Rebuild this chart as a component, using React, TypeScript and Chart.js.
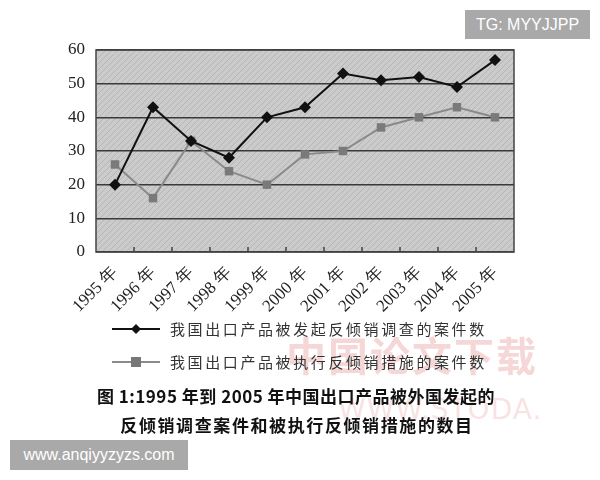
import { useEffect, useRef } from "react";
import { Chart, registerables } from "chart.js";
import type { ChartConfiguration, Plugin } from "chart.js";

Chart.register(...registerables);

const years = ["1995", "1996", "1997", "1998", "1999", "2000", "2001", "2002", "2003", "2004", "2005"];
const investigated = [20, 43, 33, 28, 40, 43, 53, 51, 52, 49, 57];
const enforced = [26, 16, 33, 24, 20, 29, 30, 37, 40, 43, 40];
const seriesNames = ["我国出口产品被发起反倾销调查的案件数", "我国出口产品被执行反倾销措施的案件数"];
const captionLines = ["图 1:1995 年到 2005 年中国出口产品被外国发起的", "反倾销调查案件和被执行反倾销措施的数目"];

const SERIF = "'Liberation Serif', 'DejaVu Serif', serif";
const CJK = "'Noto Sans CJK SC', sans-serif";

function makeHatch(): CanvasPattern | string {
  const c = document.createElement("canvas");
  c.width = 6;
  c.height = 6;
  const g = c.getContext("2d");
  if (!g) return "#c8c8c8";
  g.fillStyle = "#cbcbcb";
  g.fillRect(0, 0, 6, 6);
  g.strokeStyle = "#b6b6b6";
  g.lineWidth = 1;
  g.beginPath();
  g.moveTo(0, 6);
  g.lineTo(6, 0);
  g.stroke();
  const p = g.createPattern(c, "repeat");
  return p ?? "#c8c8c8";
}

// plot background, inner ticks, legend, caption and watermarks
const decor: Plugin<"line"> = {
  id: "decor",
  beforeDraw(chart) {
    const { ctx, chartArea: a } = chart;
    ctx.save();
    ctx.fillStyle = makeHatch();
    ctx.fillRect(a.left, a.top, a.right - a.left, a.bottom - a.top);
    ctx.restore();
  },
  afterDatasetsDraw(chart) {
    const { ctx, chartArea: a } = chart;
    const x = chart.scales.x;
    ctx.save();
    // outer frame
    ctx.strokeStyle = "#444";
    ctx.lineWidth = 1.5;
    ctx.strokeRect(a.left, a.top, a.right - a.left, a.bottom - a.top);
    // small category ticks pointing up
    ctx.beginPath();
    for (let i = 1; i < years.length; i++) {
      const px = (x.getPixelForValue(i - 1) + x.getPixelForValue(i)) / 2;
      ctx.moveTo(px, a.bottom);
      ctx.lineTo(px, a.bottom - 5);
    }
    ctx.stroke();

    // red watermark
    ctx.fillStyle = "rgba(220,110,110,0.28)";
    ctx.font = `bold 40px ${CJK}`;
    ctx.textBaseline = "middle";
    ctx.textAlign = "left";
    (ctx as any).letterSpacing = "2px";
    ctx.fillText("中国论文下载", 286, 356);
    ctx.fillStyle = "rgba(220,110,110,0.2)";
    ctx.font = `28px 'DejaVu Sans', sans-serif`;
    (ctx as any).letterSpacing = "1px";
    ctx.fillText("WWW.STODA.", 338, 412);

    // legend
    const rows = [
      { y: 329, color: "#111", style: "diamond", name: seriesNames[0] },
      { y: 362, color: "#8a8a8a", style: "square", name: seriesNames[1] },
    ];
    for (const r of rows) {
      ctx.strokeStyle = r.color;
      ctx.lineWidth = 2;
      ctx.beginPath();
      ctx.moveTo(112, r.y);
      ctx.lineTo(160, r.y);
      ctx.stroke();
      ctx.fillStyle = r.color === "#111" ? "#111" : "#777";
      ctx.beginPath();
      if (r.style === "diamond") {
        ctx.moveTo(136, r.y - 5);
        ctx.lineTo(141, r.y);
        ctx.lineTo(136, r.y + 5);
        ctx.lineTo(131, r.y);
        ctx.closePath();
      } else {
        ctx.rect(131, r.y - 5, 10, 10);
      }
      ctx.fill();
      ctx.fillStyle = "#333";
      ctx.font = `15px ${CJK}`;
      (ctx as any).letterSpacing = "2.6px";
      ctx.fillText(r.name, 170, r.y);
    }

    // caption
    ctx.fillStyle = "#111";
    ctx.textAlign = "center";
    ctx.font = `bold 17px ${CJK}`;
    (ctx as any).letterSpacing = "0.5px";
    ctx.fillText(captionLines[0], 296, 397);
    (ctx as any).letterSpacing = "1.6px";
    ctx.fillText(captionLines[1], 297, 426);
    ctx.restore();
  },
};

export default function App() {
  const canvasRef = useRef<HTMLCanvasElement>(null);

  useEffect(() => {
    if (!canvasRef.current) return;

    const config: ChartConfiguration<"line"> = {
      type: "line",
      data: {
        labels: years.map((y) => `${y} 年`),
        datasets: [
          {
            label: seriesNames[0],
            data: investigated,
            borderColor: "#111",
            backgroundColor: "#111",
            borderWidth: 2,
            pointStyle: "rectRot",
            pointRadius: 6,
            pointBorderWidth: 0,
            tension: 0,
          },
          {
            label: seriesNames[1],
            data: enforced,
            borderColor: "#8a8a8a",
            backgroundColor: "#7a7a7a",
            borderWidth: 2,
            pointStyle: "rect",
            pointRadius: 6,
            pointBorderWidth: 0,
            tension: 0,
          },
        ],
      },
      options: {
        animation: false,
        responsive: false,
        devicePixelRatio: 1,
        layout: { padding: { left: 0, top: 50, right: 86, bottom: 166 } },
        plugins: { legend: { display: false }, tooltip: { enabled: false } },
        scales: {
          x: {
            offset: true,
            grid: { display: false },
            border: { display: false },
            ticks: {
              maxRotation: 45,
              minRotation: 45,
              color: "#222",
              font: { family: SERIF, size: 17 },
              padding: 3,
            },
            afterFit: (s) => {
              s.height = 62;
            },
          },
          y: {
            min: 0,
            max: 60,
            grid: { color: "#3a3a3a", lineWidth: 1.5, drawTicks: false },
            border: { display: false },
            ticks: {
              stepSize: 10,
              color: "#222",
              padding: 11,
              font: { family: SERIF, size: 17 },
            },
            afterFit: (s) => {
              s.width = 96;
            },
          },
        },
      },
      plugins: [decor],
    };

    const chart = new Chart(canvasRef.current, config);
    return () => chart.destroy();
  }, []);

  return (
    <div style={{ position: "fixed", left: 0, top: 0, width: 600, height: 480, background: "#fff" }}>
      <canvas ref={canvasRef} width={600} height={480} style={{ width: 600, height: 480 }} />
      <div
        style={{
          position: "absolute",
          left: 465,
          top: 10,
          width: 125,
          height: 29,
          background: "#a9a9a9",
          color: "#fff",
          font: "16px 'Liberation Sans', Arial, sans-serif",
          display: "flex",
          alignItems: "center",
          justifyContent: "center",
        }}
      >
        TG: MYYJJPP
      </div>
      <div
        style={{
          position: "absolute",
          left: 10,
          top: 440,
          width: 178,
          height: 30,
          background: "#a9a9a9",
          color: "#fff",
          font: "16px 'Liberation Sans', Arial, sans-serif",
          display: "flex",
          alignItems: "center",
          justifyContent: "center",
        }}
      >
        www.anqiyyzyzs.com
      </div>
    </div>
  );
}
